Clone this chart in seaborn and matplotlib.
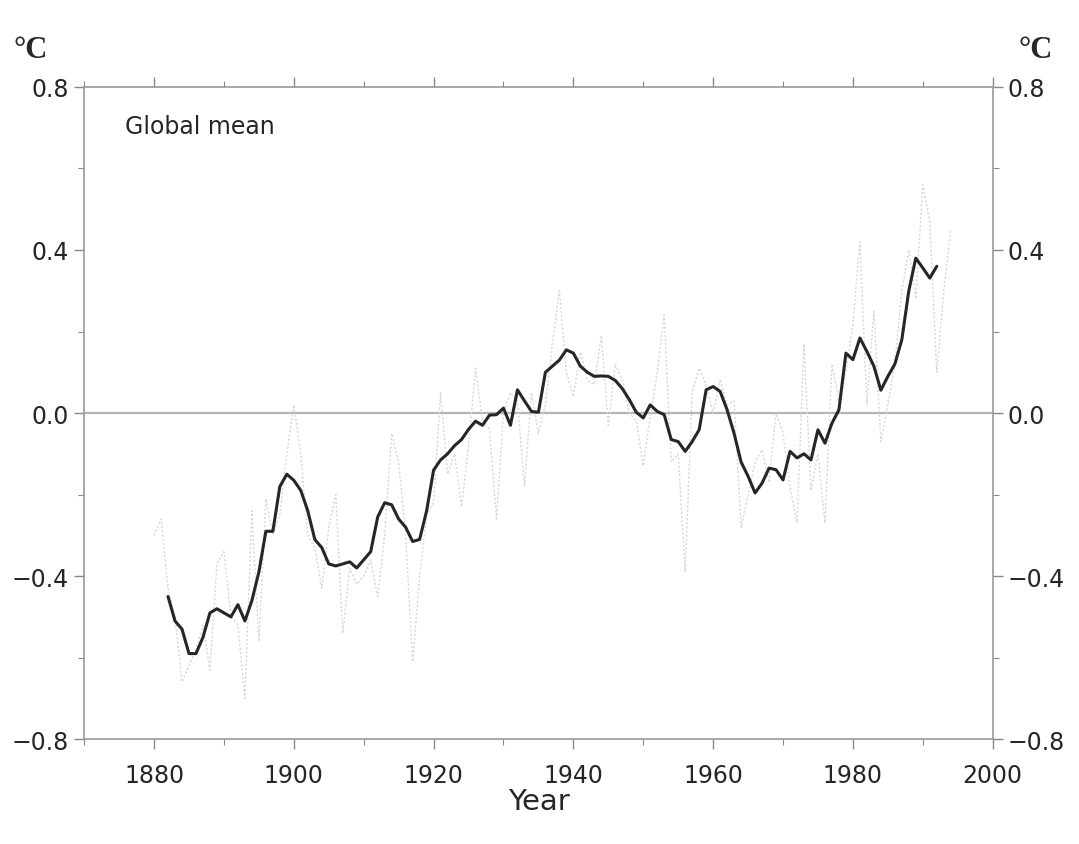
import numpy as np
import pandas as pd
import seaborn as sns
import matplotlib.pyplot as plt
from matplotlib.ticker import MultipleLocator

# annual global mean anomalies (faint dotted curve)
annual_years = list(range(1880, 1995))
annual_values = [
    -0.30, -0.26, -0.43, -0.50, -0.66, -0.62, -0.58, -0.52, -0.63, -0.37,
    -0.34, -0.50, -0.52, -0.70, -0.24, -0.56, -0.21, -0.30, -0.25, -0.10,
    0.02, -0.10, -0.30, -0.33, -0.43, -0.28, -0.20, -0.54, -0.38, -0.42,
    -0.40, -0.36, -0.45, -0.30, -0.05, -0.12, -0.30, -0.61, -0.40, -0.25,
    -0.22, 0.05, -0.15, -0.10, -0.23, -0.08, 0.11, -0.02, -0.04, -0.26,
    0.00, 0.05, 0.03, -0.18, 0.05, -0.05, 0.02, 0.17, 0.30, 0.10,
    0.04, 0.15, 0.08, 0.07, 0.19, -0.03, 0.12, 0.08, 0.00, -0.02,
    -0.13, -0.01, 0.10, 0.24, -0.12, -0.10, -0.39, 0.05, 0.11, 0.07,
    0.00, 0.08, 0.02, 0.03, -0.28, -0.20, -0.12, -0.09, -0.17, 0.00,
    -0.05, -0.18, -0.27, 0.17, -0.19, -0.10, -0.27, 0.12, 0.03, 0.10,
    0.22, 0.42, 0.02, 0.25, -0.07, 0.02, 0.12, 0.30, 0.40, 0.28,
    0.56, 0.47, 0.10, 0.30, 0.45,
]

# smoothed curve (solid black line)
smooth_years = list(range(1882, 1993))
smooth_values = [
    -0.45, -0.51, -0.53, -0.59, -0.59, -0.55, -0.49, -0.48, -0.49, -0.50,
    -0.47, -0.51, -0.46, -0.39, -0.29, -0.29, -0.18, -0.15, -0.165, -0.19,
    -0.24, -0.31, -0.33, -0.37, -0.375, -0.37, -0.365, -0.38, -0.36, -0.34,
    -0.255, -0.22, -0.225, -0.26, -0.28, -0.315, -0.31, -0.24, -0.14, -0.115,
    -0.10, -0.08, -0.065, -0.04, -0.02, -0.03, -0.005, -0.004, 0.012, -0.03,
    0.057, 0.03, 0.004, 0.002, 0.10, 0.115, 0.13, 0.155, 0.147, 0.115,
    0.10, 0.09, 0.091, 0.09, 0.08, 0.06, 0.033, 0.002, -0.012, 0.02,
    0.004, -0.004, -0.065, -0.07, -0.094, -0.07, -0.041, 0.057, 0.065, 0.053,
    0.008, -0.05, -0.12, -0.155, -0.196, -0.172, -0.135, -0.139, -0.164, -0.094,
    -0.11, -0.10, -0.115, -0.041, -0.074, -0.025, 0.008, 0.147, 0.131, 0.184,
    0.151, 0.115, 0.056, 0.09, 0.12, 0.18, 0.30, 0.38, 0.356, 0.331,
    0.36,
]

y_ticks = [-0.8, -0.4, 0.0, 0.4, 0.8]
x_ticks = [1880, 1900, 1920, 1940, 1960, 1980, 2000]

annual_df = pd.DataFrame({"year": annual_years, "temp": annual_values})
smooth_df = pd.DataFrame({"year": smooth_years, "temp": smooth_values})

sns.set_style("ticks")
plt.rcParams['font.family'] = ['DejaVu Sans']

fig = plt.figure(figsize=(10.79, 8.45), dpi=100)
ax = fig.add_axes([0.078, 0.124, 0.842, 0.772])

ax.axhline(0, color='#b4b4b4', linewidth=1.6, zorder=1)

sns.lineplot(data=annual_df, x="year", y="temp", ax=ax, color='#d6d6d6',
             linewidth=1.0, linestyle=(0, (1.5, 1.5)), zorder=2)
sns.lineplot(data=smooth_df, x="year", y="temp", ax=ax, color='#262626',
             linewidth=2.2, zorder=3)

ax.set_xlim(1870, 2000)
ax.set_ylim(-0.8, 0.8)
ax.set_xticks(x_ticks)
ax.set_yticks(y_ticks)
ax.set_yticklabels([f"{v:.1f}".replace("-", "\u2212") for v in y_ticks])
ax.xaxis.set_minor_locator(MultipleLocator(10))
ax.yaxis.set_minor_locator(MultipleLocator(0.2))

ax.tick_params(axis='both', which='both', direction='out', color='#888888',
               labelsize=17, top=True, right=True, labelright=True, pad=4)
ax.tick_params(axis='both', which='major', length=7, width=1)
ax.tick_params(axis='both', which='minor', length=4, width=0.8)
ax.tick_params(axis='x', pad=10)

for side in ['left', 'right', 'top', 'bottom']:
    ax.spines[side].set_visible(True)
    ax.spines[side].set_color('#9a9a9a')
    ax.spines[side].set_linewidth(1.2)

ax.set_xlabel("Year", fontsize=21, labelpad=0)
ax.set_ylabel("")

ax.text(0.045, 0.94, "Global mean", transform=ax.transAxes, fontsize=17,
        ha='left', va='center')

fig.text(0.028, 0.94, "°C", fontsize=22, fontweight='bold',
         family='Liberation Serif', ha='center', va='center')
fig.text(0.96, 0.94, "°C", fontsize=22, fontweight='bold',
         family='Liberation Serif', ha='center', va='center')

fig.savefig("out.png", dpi=100, facecolor='white')
